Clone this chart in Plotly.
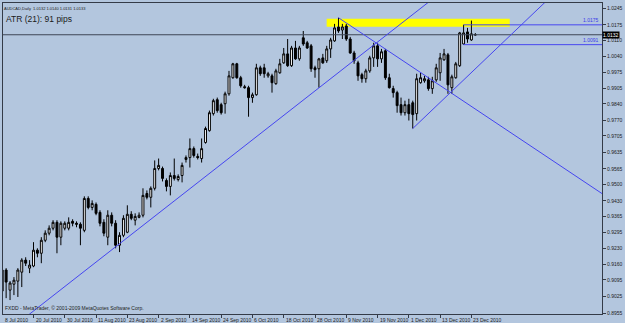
import plotly.graph_objects as go
import pandas as pd

# ---- data (AUDCAD daily) ----
dates = pd.bdate_range("2010-07-08", periods=122)

opens = [0.9048, 0.9137, 0.9052, 0.9077, 0.9090, 0.9128, 0.9179, 0.9145, 0.9154, 0.9221,
         0.9208, 0.9263, 0.9293, 0.9314, 0.9339, 0.9276, 0.9314, 0.9314, 0.9343, 0.9335,
         0.9331, 0.9305, 0.9440, 0.9402, 0.9415, 0.9381, 0.9339, 0.9276, 0.9369, 0.9335,
         0.9242, 0.9284, 0.9297, 0.9373, 0.9348, 0.9360, 0.9369, 0.9461, 0.9445, 0.9483,
         0.9567, 0.9567, 0.9516, 0.9491, 0.9537, 0.9520, 0.9537, 0.9605, 0.9613, 0.9651,
         0.9618, 0.9609, 0.9677, 0.9727, 0.9799, 0.9858, 0.9837, 0.9841, 0.9883, 0.9951,
         1.0010, 0.9951, 0.9913, 0.9909, 0.9867, 0.9879, 0.9993, 0.9993, 0.9959, 0.9959,
         0.9926, 0.9972, 1.0014, 1.0052, 1.0002, 1.0077, 1.0031, 1.0120, 1.0099, 1.0086,
         0.9993, 0.9989, 1.0035, 1.0023, 1.0073, 1.0107, 1.0166, 1.0153, 1.0170, 1.0115,
         1.0056, 1.0014, 0.9964, 0.9947, 0.9980, 1.0035, 1.0086, 1.0031, 1.0065, 0.9951,
         0.9905, 0.9888, 0.9837, 0.9803, 0.9837, 0.9845, 0.9799, 0.9930, 0.9938, 0.9942,
         0.9905, 0.9942, 0.9972, 1.0027, 1.0048, 0.9909, 0.9951, 1.0002, 1.0094, 1.0145,
         1.0111, 1.0132]
highs = [0.9158, 0.9145, 0.9090, 0.9107, 0.9145, 0.9187, 0.9191, 0.9179, 0.9255, 0.9229,
         0.9276, 0.9305, 0.9326, 0.9348, 0.9348, 0.9343, 0.9343, 0.9360, 0.9352, 0.9343,
         0.9339, 0.9449, 0.9449, 0.9432, 0.9423, 0.9390, 0.9352, 0.9390, 0.9381, 0.9348,
         0.9297, 0.9369, 0.9411, 0.9386, 0.9377, 0.9381, 0.9483, 0.9474, 0.9491, 0.9601,
         0.9609, 0.9575, 0.9525, 0.9550, 0.9609, 0.9542, 0.9592, 0.9622, 0.9694, 0.9660,
         0.9630, 0.9694, 0.9744, 0.9812, 0.9862, 0.9867, 0.9845, 0.9892, 0.9980, 1.0014,
         1.0014, 0.9959, 0.9921, 0.9917, 0.9888, 1.0010, 1.0002, 1.0010, 0.9976, 0.9968,
         0.9989, 1.0031, 1.0077, 1.0115, 1.0086, 1.0107, 1.0086, 1.0149, 1.0107, 1.0094,
         1.0002, 1.0035, 1.0052, 1.0086, 1.0120, 1.0179, 1.0205, 1.0179, 1.0179, 1.0124,
         1.0065, 1.0023, 0.9972, 0.9989, 1.0044, 1.0099, 1.0099, 1.0073, 1.0073, 0.9968,
         0.9917, 0.9896, 0.9867, 0.9854, 0.9862, 0.9854, 0.9968, 0.9972, 0.9959, 0.9955,
         0.9955, 1.0010, 1.0056, 1.0073, 1.0056, 0.9964, 1.0018, 1.0145, 1.0175, 1.0162,
         1.0193, 1.0140]
lows = [0.9014, 0.9018, 0.9010, 0.9031, 0.9023, 0.9065, 0.9154, 0.9124, 0.9149, 0.9191,
        0.9166, 0.9255, 0.9284, 0.9305, 0.9208, 0.9242, 0.9305, 0.9305, 0.9322, 0.9318,
        0.9242, 0.9297, 0.9394, 0.9390, 0.9369, 0.9322, 0.9280, 0.9242, 0.9322, 0.9229,
        0.9213, 0.9276, 0.9293, 0.9348, 0.9326, 0.9356, 0.9360, 0.9436, 0.9402, 0.9474,
        0.9559, 0.9512, 0.9470, 0.9453, 0.9516, 0.9512, 0.9508, 0.9592, 0.9571, 0.9613,
        0.9605, 0.9592, 0.9672, 0.9723, 0.9791, 0.9803, 0.9795, 0.9799, 0.9875, 0.9947,
        0.9947, 0.9909, 0.9905, 0.9786, 0.9845, 0.9875, 0.9959, 0.9951, 0.9951, 0.9888,
        0.9921, 0.9968, 1.0010, 0.9997, 0.9997, 1.0027, 1.0023, 1.0086, 1.0073, 0.9976,
        0.9951, 0.9909, 1.0010, 1.0014, 1.0035, 1.0103, 1.0141, 1.0115, 1.0107, 1.0052,
        1.0010, 0.9938, 0.9930, 0.9930, 0.9972, 0.9997, 0.9997, 1.0014, 0.9942, 0.9905,
        0.9867, 0.9803, 0.9791, 0.9791, 0.9770, 0.9736, 0.9770, 0.9926, 0.9930, 0.9896,
        0.9883, 0.9934, 0.9938, 1.0023, 0.9883, 0.9883, 0.9947, 0.9997, 1.0091, 1.0099,
        1.0107, 1.0131]
closes = [0.9137, 0.9086, 0.9082, 0.9094, 0.9137, 0.9179, 0.9166, 0.9158, 0.9221, 0.9208,
          0.9263, 0.9293, 0.9314, 0.9339, 0.9276, 0.9335, 0.9335, 0.9339, 0.9335, 0.9331,
          0.9314, 0.9440, 0.9402, 0.9419, 0.9377, 0.9335, 0.9293, 0.9369, 0.9335, 0.9242,
          0.9284, 0.9356, 0.9373, 0.9356, 0.9364, 0.9369, 0.9453, 0.9445, 0.9483, 0.9567,
          0.9580, 0.9525, 0.9491, 0.9537, 0.9525, 0.9533, 0.9580, 0.9613, 0.9651, 0.9622,
          0.9613, 0.9651, 0.9736, 0.9803, 0.9854, 0.9812, 0.9803, 0.9883, 0.9959, 1.0010,
          0.9951, 0.9917, 0.9909, 0.9867, 0.9879, 0.9993, 0.9968, 0.9968, 0.9968, 0.9930,
          0.9980, 1.0010, 1.0052, 1.0002, 1.0077, 1.0031, 1.0077, 1.0094, 1.0077, 0.9989,
          0.9985, 1.0031, 1.0014, 1.0073, 1.0111, 1.0162, 1.0149, 1.0166, 1.0115, 1.0056,
          1.0023, 0.9959, 0.9947, 0.9980, 1.0035, 1.0086, 1.0031, 1.0061, 0.9951, 0.9909,
          0.9888, 0.9833, 0.9803, 0.9837, 0.9799, 0.9795, 0.9947, 0.9951, 0.9947, 0.9905,
          0.9938, 0.9993, 1.0035, 1.0052, 0.9921, 0.9955, 1.0010, 1.0141, 1.0141, 1.0115,
          1.0137, 1.0133]

price_ticks = ["1.0245", "1.0175", "1.0110", "1.0040", "0.9975", "0.9905", "0.9840",
               "0.9770", "0.9705", "0.9635", "0.9565", "0.9500", "0.9430", "0.9365",
               "0.9295", "0.9230", "0.9160", "0.9095", "0.9025", "0.8955"]
date_label_step = 8

# drawn objects (bar index, price)
trend_up_long = ([6.87, 109.5], [0.8949, 1.0277])
trend_up_dec = ([105.0, 140.0], [0.9736, 1.0289])
trend_down = ([86.0, 155.0], [1.0205, 0.9443])
hline_levels = [1.0175, 1.0091]
hline_start = 118
zone = dict(x0=82.98, x1=129.8, y0=1.0167, y1=1.0201)
bid_price = closes[-1]
bid_label = "1.0132"

x_idx = list(range(len(dates)))
x_min, x_max = 0.2, 153.4
y_min, y_max = 0.89509, 1.02674

BG = "#B3C6DE"
AX = "#343B48"
BLUE = "#4646F0"

fig = go.Figure()
fig.add_shape(type="rect", xref="x", yref="y", layer="below",
              line=dict(width=0), fillcolor="#FFFF00", **zone)
fig.add_trace(go.Scatter(x=[x_min, x_max], y=[bid_price, bid_price], mode="lines",
                         line=dict(color="#3E4656", width=1), hoverinfo="skip"))
fig.add_trace(go.Candlestick(
    x=x_idx, open=opens, high=highs, low=lows, close=closes,
    increasing=dict(fillcolor="#FFFFFF", line=dict(color="#000000", width=1)),
    decreasing=dict(fillcolor="#000000", line=dict(color="#000000", width=1)),
    whiskerwidth=0, showlegend=False))
for xs, ys in (trend_up_long, trend_up_dec, trend_down):
    fig.add_trace(go.Scatter(x=xs, y=ys, mode="lines", line=dict(color=BLUE, width=1),
                             hoverinfo="skip"))
for lvl in hline_levels:
    fig.add_trace(go.Scatter(x=[hline_start - 0.05, x_max], y=[lvl, lvl], mode="lines",
                             line=dict(color=BLUE, width=1), hoverinfo="skip"))
    fig.add_annotation(x=1, xref="paper", y=lvl, yref="y", text=f"{lvl:.4f}",
                       showarrow=False, xanchor="right", yanchor="bottom", xshift=-1,
                       font=dict(size=5, color="#3A3AE8", family="Liberation Sans"))

# date labels (left aligned after tick like MetaTrader)
tick_idx = x_idx[::date_label_step]
for i in tick_idx:
    d = dates[i]
    fig.add_annotation(x=max(i, x_min), xref="x", y=0, yref="paper",
                       text=f"{d.day} {d.strftime('%b %Y')}", showarrow=False,
                       xanchor="left", yanchor="top", xshift=0, yshift=-1,
                       font=dict(size=5, color="#222222", family="Liberation Sans"))

# header texts
fig.add_annotation(x=0, xref="paper", y=1, yref="paper", xanchor="left", yanchor="top",
                   text="AUDCAD,Daily  1.0132 1.0140 1.0131 1.0133", showarrow=False,
                   xshift=-1, yshift=-1,
                   font=dict(size=4, color="#222222", family="Liberation Sans"))
fig.add_annotation(x=0, xref="paper", y=1, yref="paper", xanchor="left", yanchor="top",
                   text="ATR (21): 91 pips", showarrow=False, xshift=1, yshift=-9,
                   font=dict(size=8.5, color="#1A1A1A", family="Liberation Sans"))
fig.add_annotation(x=0, xref="paper", y=0, yref="paper", xanchor="left", yanchor="bottom",
                   text="FXDD - MetaTrader, © 2001-2009 MetaQuotes Software Corp.",
                   showarrow=False, xshift=0, yshift=1,
                   font=dict(size=5, color="#222222", family="Liberation Sans"))
# bid price box on the price scale
fig.add_annotation(x=1, xref="paper", y=bid_price, yref="y", xanchor="left",
                   yanchor="middle", text=bid_label, showarrow=False, xshift=0,
                   bgcolor="#000000", borderpad=0,
                   font=dict(size=5, color="#FFFFFF", family="Liberation Sans"))

fig.update_layout(
    width=625, height=323, margin=dict(l=2, r=19, t=2, b=9),
    paper_bgcolor=BG, plot_bgcolor=BG, showlegend=False, boxgap=0.3,
    xaxis=dict(range=[x_min, x_max], showgrid=False, zeroline=False,
               showline=True, mirror=True, linecolor=AX, linewidth=1,
               ticks="outside", ticklen=3, tickcolor=AX, tickvals=tick_idx,
               showticklabels=False, rangeslider=dict(visible=False)),
    yaxis=dict(range=[y_min, y_max], side="right", showgrid=False, zeroline=False,
               showline=True, mirror=True, linecolor=AX, linewidth=1,
               ticks="outside", ticklen=3, tickcolor=AX,
               tickvals=[float(t) for t in price_ticks], ticktext=price_ticks,
               tickfont=dict(size=5, color="#222222", family="Liberation Sans")),
)

fig.write_html("out.html")
